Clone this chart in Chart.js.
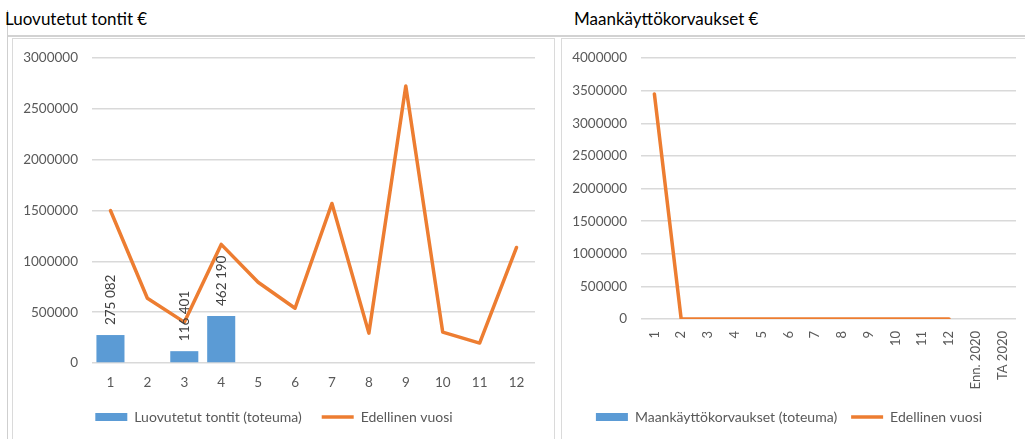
<!DOCTYPE html>
<html>
<head>
<meta charset="utf-8">
<script src="https://cdn.jsdelivr.net/npm/chart.js@4.4.1/dist/chart.umd.min.js"></script>
<style>
  body{margin:0;background:#fff;width:1025px;height:439px;overflow:hidden;position:relative;font-family:Lato,'Open Sans',sans-serif}
  .vl{position:absolute;left:7px;top:10px;width:1px;height:440px;background:#cfcfcf}
  .hl{position:absolute;left:8px;top:35px;width:1020px;height:2px;background:#d2d2d2}
  .box{position:absolute;top:38px;height:420px;border:1px solid #dadada}
  .title{position:absolute;top:8px;font-size:17px;color:#000}
  canvas{position:absolute}
</style>
</head>
<body>
<div class="vl"></div>
<div class="hl"></div>
<div class="title" style="left:5px">Luovutetut tontit €</div>
<div class="title" style="left:574px">Maankäyttökorvaukset €</div>
<div class="box" style="left:12px;width:541px"></div>
<div class="box" style="left:561px;width:480px"></div>
<div style="position:absolute;left:13px;top:36px;width:541px;height:420px"><canvas id="leftChart"></canvas></div>
<div style="position:absolute;left:562px;top:36px;width:463px;height:420px"><canvas id="rightChart"></canvas></div>
<script>
// data
const leftLabels = ['1','2','3','4','5','6','7','8','9','10','11','12'];
const tontitActual = [275082, null, 116401, 462190, null, null, null, null, null, null, null, null];
const tontitPrev = [1500000, 637000, 402000, 1167000, 794000, 539000, 1570000, 294000, 2725000, 304000, 196000, 1137000];

const rightLabels = ['1','2','3','4','5','6','7','8','9','10','11','12','Enn. 2020','TA 2020'];
const korvActual = [null, null, null, null, null, null, null, null, null, null, null, null, null, null];
const korvPrev = [3450000, 0, 0, 0, 0, 0, 0, 0, 0, 0, 0, 0, null, null];

const BLUE = '#5b9bd5', ORANGE = '#ed7d31', GRID = '#d9d9d9', TXT = '#595959';
const FONT = "Lato, 'Open Sans', sans-serif";

function spaced(n){ return String(n).replace(/\B(?=(\d{3})+(?!\d))/g, ' ') }

// rotated value labels above the bars
const barLabels = {
  id:'barLabels',
  afterDatasetsDraw(chart){
    const ctx = chart.ctx;
    const meta = chart.getDatasetMeta(0);
    ctx.save();
    ctx.font = '13.5px ' + FONT; ctx.fillStyle = '#404040';
    ctx.textAlign = 'left'; ctx.textBaseline = 'middle';
    meta.data.forEach((el,i)=>{
      const v = chart.data.datasets[0].data[i];
      if(v==null) return;
      ctx.save(); ctx.translate(el.x, el.y - 10); ctx.rotate(-Math.PI/2);
      ctx.fillText(spaced(v), 0, 0); ctx.restore();
    });
    ctx.restore();
  }
};

// axisH / xPad / rot / legPad differ per chart so the plot areas line up with the picture
function makeChart(id, labels, barData, lineData, barName, yMax, axisH, xPad, rot, xFont, legPad, extraPlugins){
  return new Chart(document.getElementById(id), {
    data:{labels, datasets:[
      {type:'bar', label:barName, data:barData, backgroundColor:BLUE, categoryPercentage:1, barPercentage:0.76, pointStyle:'rect', order:2},
      {type:'line', label:'Edellinen vuosi', data:lineData, borderColor:ORANGE, backgroundColor:ORANGE, borderWidth:3.5, pointRadius:0, tension:0, pointStyle:'line', borderCapStyle:'round', borderJoinStyle:'round', order:1}
    ]},
    options:{
      responsive:true, maintainAspectRatio:false, animation:false,
      layout:{padding:{top:0, right:id==='leftChart'?19:9, bottom:22, left:0}},
      plugins:{
        legend:{position:'bottom', labels:{usePointStyle:true, pointStyleWidth:32, boxHeight:8, padding:legPad, color:TXT,
          font:{family:FONT, size:14}, sort:(a,b)=>a.datasetIndex-b.datasetIndex}},
        tooltip:{enabled:false}
      },
      scales:{
        x:{grid:{display:false}, border:{display:false},
           ticks:{color:TXT, font:{family:FONT, size:xFont}, padding:xPad, minRotation:rot, maxRotation:rot, autoSkip:false},
           afterFit(s){ s.height = axisH }},
        y:{min:0, max:yMax, grid:{color:GRID, drawTicks:false, lineWidth:1.5}, border:{display:false},
           ticks:{stepSize:500000, color:TXT, font:{family:FONT, size:13.5}, padding:14, callback:v=>String(v)},
           afterFit(s){ s.width = 79 }}
      }
    },
    plugins:extraPlugins
  });
}

makeChart('leftChart', leftLabels, tontitActual, tontitPrev, 'Luovutetut tontit (toteuma)', 3000000, 27, 4, 0, 13.5, 20, [barLabels]);
makeChart('rightChart', rightLabels, korvActual, korvPrev, 'Maankäyttökorvaukset (toteuma)', 4000000, 77, 4, 90, 13, 14, []);
</script>
</body>
</html>
